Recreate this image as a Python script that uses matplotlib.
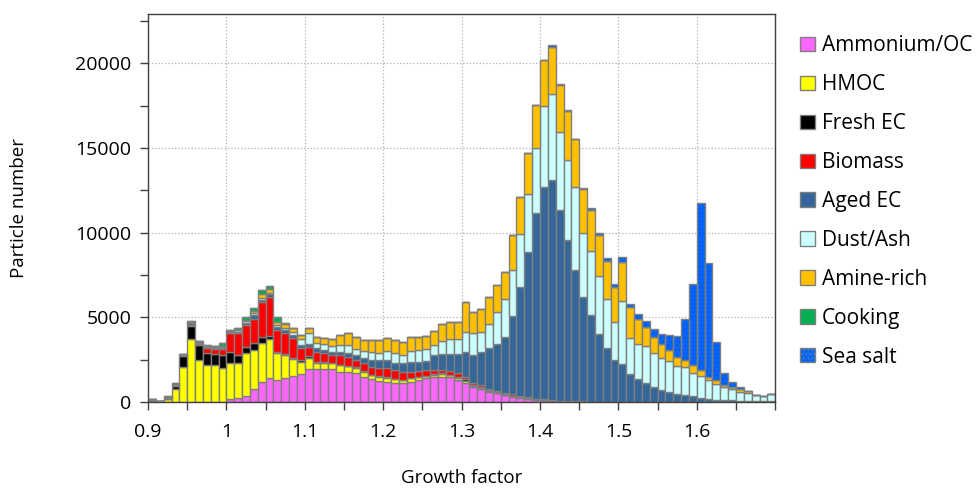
import numpy as np
import matplotlib
matplotlib.use("Agg")
import matplotlib.pyplot as plt
import matplotlib.patches as mpatches
from matplotlib.ticker import MultipleLocator, FormatStrFormatter

plt.rcParams['font.family'] = ['Open Sans', 'DejaVu Sans']
plt.rcParams['hatch.linewidth'] = 0.6

# ---- data: particle counts per growth-factor bin (bin width 0.01, left edges 0.90 ... 1.69)
gf_left = np.round(0.90 + 0.01 * np.arange(80), 2)

ammonium_oc = [0, 0, 0, 0, 0, 0, 0, 0, 0, 30,
               160, 220, 350, 800, 1200, 1400, 1280, 1400, 1530, 1650,
               1930, 1930, 1930, 1930, 1790, 1790, 1690, 1500, 1340, 1240,
               1200, 1140, 1100, 1200, 1300, 1400, 1460, 1500, 1460, 1300,
               1140, 900, 770, 610, 510, 410, 330, 260, 200, 150,
               110, 80, 60, 40, 30, 20, 10, 10, 0, 0,
               0, 0, 0, 0, 0, 0, 0, 0, 0, 0,
               0, 0, 0, 0, 0, 0, 0, 0, 0, 0]
hmoc = [60, 30, 180, 750, 2080, 3750, 2480, 2180, 2180, 1960,
        2160, 2100, 2520, 2300, 2300, 2320, 1590, 1370, 990, 730,
        700, 390, 380, 350, 390, 330, 330, 290, 250, 250,
        250, 220, 200, 200, 160, 130, 150, 150, 120, 150,
        120, 80, 60, 40, 30, 30, 30, 20, 20, 20,
        10, 10, 10, 10, 10, 10, 0, 0, 0, 0,
        0, 0, 0, 0, 0, 0, 0, 0, 0, 0,
        0, 0, 0, 0, 0, 0, 0, 0, 0, 0]
fresh_ec = [20, 10, 30, 230, 660, 750, 880, 730, 650, 780,
            650, 450, 355, 400, 355, 200, 100, 80, 100, 100,
            70, 60, 40, 40, 40, 30, 30, 30, 30, 30,
            30, 30, 30, 30, 30, 30, 40, 40, 40, 60,
            100, 40, 60, 40, 30, 30, 30, 30, 20, 20,
            20, 10, 10, 10, 0, 0, 10, 10, 0, 0,
            0, 0, 0, 0, 0, 0, 0, 0, 0, 0,
            0, 0, 0, 0, 0, 0, 0, 0, 0, 0]
biomass = [10, 0, 10, 20, 30, 50, 60, 260, 280, 340,
           1080, 1280, 1320, 1380, 2070, 2300, 1280, 1200, 1140, 690,
           540, 590, 520, 450, 550, 520, 460, 460, 460, 500,
           540, 500, 460, 360, 360, 330, 240, 200, 230, 180,
           130, 80, 110, 110, 100, 90, 60, 50, 40, 20,
           20, 20, 10, 10, 10, 10, 0, 0, 0, 0,
           0, 0, 0, 0, 0, 0, 0, 0, 0, 0,
           0, 0, 0, 0, 0, 0, 0, 0, 0, 0]
aged_ec = [40, 20, 40, 40, 30, 100, 80, 80, 100, 100,
           50, 60, 150, 250, 130, 150, 200, 200, 200, 200,
           170, 200, 200, 200, 200, 240, 250, 350, 390, 450,
           450, 430, 490, 590, 530, 530, 880, 940, 980, 1140,
           1480, 1700, 1970, 2400, 2780, 3295, 4660, 6445, 8570, 10960,
           12540, 12976, 11240, 9490, 7740, 6175, 5110, 3980, 3180, 2470,
           2230, 1680, 1360, 1140, 905, 730, 580, 490, 410, 340,
           250, 180, 150, 120, 100, 80, 60, 50, 40, 40]
dust_ash = [40, 20, 40, 30, 10, 50, 50, 50, 50, 60,
            60, 120, 100, 120, 100, 100, 100, 120, 200, 330,
            680, 330, 350, 330, 400, 450, 390, 390, 490, 450,
            550, 550, 530, 630, 690, 690, 590, 790, 870, 920,
            1180, 1250, 1180, 1440, 1880, 2260, 2680, 3110, 3440, 3850,
            4760, 5115, 4620, 4760, 4915, 3775, 3800, 3435, 2880, 2260,
            3740, 2080, 2060, 2160, 2000, 1850, 1860, 1630, 1670, 1390,
            1280, 1120, 910, 745, 650, 530, 450, 350, 300, 420]
amine_rich = [20, 10, 20, 20, 10, 50, 40, 40, 50, 50,
              30, 40, 60, 100, 200, 200, 200, 250, 200, 250,
              290, 350, 370, 410, 620, 730, 690, 630, 690, 730,
              770, 790, 750, 810, 750, 790, 850, 980, 1040, 980,
              1770, 1280, 1320, 1570, 1570, 1570, 2060, 2200, 2420, 2500,
              2710, 2770, 2750, 2880, 2800, 2610, 2420, 2440, 2270, 2070,
              2300, 1830, 1510, 1150, 945, 845, 630, 550, 390, 450,
              350, 160, 240, 140, 160, 140, 150, 10, 10, 10]
cooking = [20, 0, 20, 10, 10, 50, 30, 20, 30, 180,
           60, 80, 180, 230, 250, 170, 280, 60, 40, 0,
           0, 0, 0, 0, 0, 0, 0, 0, 0, 0,
           0, 0, 0, 0, 0, 0, 0, 0, 0, 0,
           0, 0, 0, 0, 0, 0, 0, 0, 0, 0,
           0, 0, 0, 0, 0, 0, 0, 0, 0, 0,
           0, 0, 0, 0, 0, 0, 0, 0, 0, 0,
           0, 0, 0, 0, 0, 0, 0, 0, 0, 0]
sea_salt = [0, 0, 0, 0, 0, 0, 0, 0, 0, 0,
            0, 0, 0, 0, 0, 0, 0, 0, 0, 0,
            0, 0, 0, 0, 0, 0, 0, 0, 0, 0,
            0, 0, 0, 0, 0, 0, 0, 0, 0, 0,
            0, 0, 0, 0, 0, 0, 0, 0, 0, 0,
            0, 80, 100, 30, 50, 60, 80, 80, 150, 150,
            300, 230, 300, 350, 490, 590, 885, 1240, 2460, 4820,
            9870, 6760, 2220, 730, 300, 150, 0, 0, 0, 0]

labels = ["Ammonium/OC", "HMOC", "Fresh EC", "Biomass", "Aged EC",
          "Dust/Ash", "Amine-rich", "Cooking", "Sea salt"]
colors = ["#ff66ff", "#ffff00", "#000000", "#ff0000", "#336699",
          "#ccffff", "#ffc000", "#00b050", "#0066ff"]
series = [ammonium_oc, hmoc, fresh_ec, biomass, aged_ec,
          dust_ash, amine_rich, cooking, sea_salt]

EDGE = "#7f7f7f"

fig = plt.figure(figsize=(9.8, 4.88), dpi=100)
ax = fig.add_axes([0.151, 0.176, 0.640, 0.795])

bottom = np.zeros(len(gf_left))
handles = []
for lab, col, vals in zip(labels, colors, series):
    vals = np.asarray(vals, dtype=float)
    if lab == "Sea salt":
        # dotted fill, then the grey outline on top
        ax.bar(gf_left, vals, width=0.01, bottom=bottom, align="edge",
               color=col, edgecolor="#1a4fbf", hatch="....", linewidth=0, zorder=2)
        ax.bar(gf_left, vals, width=0.01, bottom=bottom, align="edge",
               facecolor="none", edgecolor=EDGE, linewidth=1.0, zorder=3)
        handles.append(mpatches.Patch(facecolor=col, edgecolor=EDGE, hatch="....",
                                      linewidth=1.0, label=lab))
    else:
        ax.bar(gf_left, vals, width=0.01, bottom=bottom, align="edge",
               color=col, edgecolor=EDGE, linewidth=1.0, zorder=2)
        handles.append(mpatches.Patch(facecolor=col, edgecolor=EDGE,
                                      linewidth=1.0, label=lab))
    bottom += vals

ax.set_xlim(0.9, 1.7)
ax.set_ylim(0, 22900)
ax.xaxis.set_minor_locator(MultipleLocator(0.05))
ax.set_xticks(np.round(np.arange(0.9, 1.65, 0.1), 1))
ax.xaxis.set_major_formatter(FormatStrFormatter("%g"))
ax.yaxis.set_major_locator(MultipleLocator(5000))
ax.yaxis.set_minor_locator(MultipleLocator(2500))

ax.grid(True, which="major", color="#b0b0b0", linestyle=":", linewidth=0.9, zorder=0)
ax.set_axisbelow(True)
ax.tick_params(which="both", direction="out", length=6, width=1.0,
               color="#404040", labelsize=14)
ax.tick_params(axis="x", pad=9)
ax.tick_params(axis="y", pad=6)
for s in ax.spines.values():
    s.set_color("#404040")
    s.set_linewidth(1.0)

ax.set_xlabel("Growth factor", fontsize=13.5, labelpad=20)
ax.set_ylabel("Particle number", fontsize=13.5, labelpad=34)

ax.legend(handles=handles, loc="upper left", bbox_to_anchor=(1.027, 0.967),
          frameon=False, fontsize=15, handlelength=0.68, handleheight=0.68,
          handletextpad=0.35, labelspacing=0.86, borderaxespad=0)

fig.savefig("out.png", dpi=100)
